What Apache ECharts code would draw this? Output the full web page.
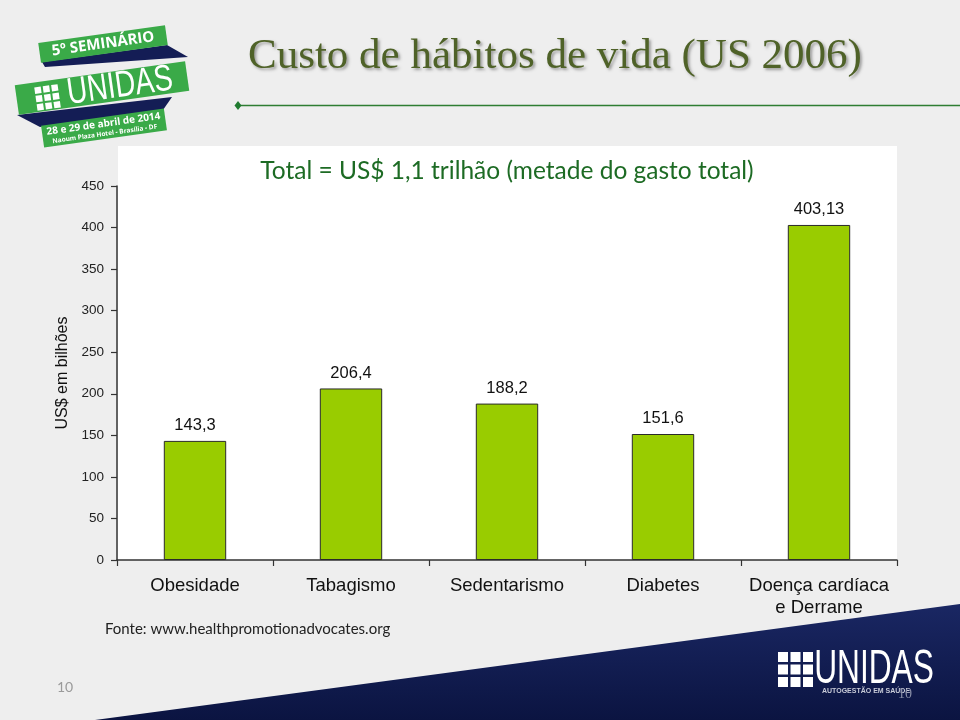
<!DOCTYPE html>
<html>
<head>
<meta charset="utf-8">
<script src="https://cdn.jsdelivr.net/npm/echarts@6/dist/echarts.min.js"></script>
<style>html,body{margin:0;padding:0;background:#eeeeee;}#chart{width:960px;height:720px;}</style>
</head>
<body>
<div id="chart"></div>
<script>
const categories = ['Obesidade', 'Tabagismo', 'Sedentarismo', 'Diabetes', 'Doença cardíaca\ne Derrame'];
const values = [143.3, 206.4, 188.2, 151.6, 403.13];
const yMin = 0, yMax = 450, yStep = 50;
const mainTitle = 'Custo de hábitos de vida (US 2006)';
const subTitle = 'Total = US$ 1,1 trilhão (metade do gasto total)';
const yName = 'US$ em bilhões';
const source = 'Fonte: www.healthpromotionadvocates.org';

const chart = echarts.init(document.getElementById('chart'));
const SANS = '"Liberation Sans", Arial, sans-serif';
const navy = '#141d55';
const green = '#3aaa48';

function squares(x0, y0, s, g, fill) {
  const out = [];
  for (let r = 0; r < 3; r++) for (let c = 0; c < 3; c++) {
    out.push({ type: 'rect', shape: { x: x0 + c * (s + g), y: y0 + r * (s + g), width: s, height: s }, style: { fill: fill } });
  }
  return out;
}

const graphics = [
  // white plot panel
  { type: 'rect', z: -10, shape: { x: 118, y: 146, width: 779, height: 414 }, style: { fill: '#ffffff' } },
  // navy corner
  { type: 'polygon', z: -5, shape: { points: [[95, 720], [960, 604], [960, 720]] },
    style: { fill: new echarts.graphic.LinearGradient(0, 0, 0, 1, [{ offset: 0, color: '#1a2763' }, { offset: 1, color: '#0b1441' }]) } },
  // title
  { type: 'text', x: 248, y: 57, style: { text: mainTitle, font: '43px "Liberation Serif", "Times New Roman", serif', fill: '#4f6228', textVerticalAlign: 'middle',
    textShadowColor: 'rgba(0,0,0,0.35)', textShadowBlur: 3, textShadowOffsetX: 2, textShadowOffsetY: 2 } },
  // line with diamond
  { type: 'line', shape: { x1: 238, y1: 105.5, x2: 960, y2: 105.5 }, style: { stroke: '#2e7d32', lineWidth: 1.3 } },
  { type: 'polygon', shape: { points: [[238, 101], [241.5, 105.5], [238, 110], [234.5, 105.5]] }, style: { fill: '#1f7a2f' } },
  // subtitle
  { type: 'text', x: 507, y: 171, style: { text: subTitle, font: '24.5px Lato, "Open Sans", sans-serif', fill: '#1d6b24', textAlign: 'center', textVerticalAlign: 'middle' } },
  // source
  { type: 'text', x: 105, y: 629, style: { text: source, font: '15px Lato, "Open Sans", sans-serif', fill: '#222', textVerticalAlign: 'middle' } },
  // page numbers
  { type: 'text', x: 65, y: 687, style: { text: '10', font: '14px Lato, sans-serif', fill: '#9a9a9a', textAlign: 'center', textVerticalAlign: 'middle' } },
  // top-left logo ribbons
  { type: 'polygon', shape: { points: [[42, 62], [167, 45], [188, 57], [45, 67]] }, style: { fill: navy } },
  { type: 'polygon', shape: { points: [[17, 115], [172, 97], [163, 110], [40, 127]] }, style: { fill: navy } },
  { type: 'group', x: 103, y: 44, rotation: 0.14, children: [
    { type: 'rect', shape: { x: -64, y: -10, width: 128, height: 20 }, style: { fill: green } },
    { type: 'text', x: 0, y: 0, style: { text: '5º SEMINÁRIO', font: 'bold 15px "Open Sans", sans-serif', fill: '#fff', textAlign: 'center', textVerticalAlign: 'middle' } }
  ] },
  { type: 'group', x: 102, y: 88, rotation: 0.14, children: [
    { type: 'rect', shape: { x: -86, y: -15, width: 172, height: 30 }, style: { fill: green } },
    ...squares(-67, -10, 6.5, 2, '#fff'),
    { type: 'text', x: 18, y: 1, scaleX: 0.76, style: { text: 'UNIDAS', font: '37px "Liberation Sans", sans-serif', fill: '#fff', textAlign: 'center', textVerticalAlign: 'middle' } }
  ] },
  { type: 'group', x: 104, y: 128, rotation: 0.14, children: [
    { type: 'rect', shape: { x: -62, y: -11, width: 124, height: 22 }, style: { fill: green } },
    { type: 'text', x: 0, y: -4, style: { text: '28 e 29 de abril de 2014', font: 'bold 10px "Open Sans", sans-serif', fill: '#fff', textAlign: 'center', textVerticalAlign: 'middle' } },
    { type: 'text', x: 0, y: 6, style: { text: 'Naoum Plaza Hotel - Brasília - DF', font: 'bold 6.5px "Open Sans", sans-serif', fill: '#fff', textAlign: 'center', textVerticalAlign: 'middle' } }
  ] },
  // bottom-right logo
  ...squares(778, 652, 10, 2.5, '#ffffff'),
  { type: 'text', x: 874, y: 670, scaleX: 0.66, style: { text: 'UNIDAS', font: '48px "Liberation Sans", sans-serif', fill: '#ffffff', textAlign: 'center', textVerticalAlign: 'middle' } },
  { type: 'text', x: 866, y: 691, style: { text: 'AUTOGESTÃO EM SAÚDE', font: 'bold 7px "Liberation Sans", sans-serif', fill: '#c8cbd8', textAlign: 'center', textVerticalAlign: 'middle' } },
  { type: 'text', x: 905, y: 694, style: { text: '10', font: '14px "Liberation Serif", serif', fill: '#8a8fa8', textAlign: 'center', textVerticalAlign: 'middle' } }
];

chart.setOption({
  backgroundColor: '#eeeeee',
  animation: false,
  grid: { left: 117, right: 63, top: 186, bottom: 160 },
  xAxis: {
    type: 'category',
    data: categories,
    axisLine: { lineStyle: { color: '#333', width: 1.5 } },
    axisTick: { show: true, length: 6, lineStyle: { color: '#333', width: 1.2 } },
    axisLabel: { fontSize: 18.5, color: '#111', fontFamily: SANS, margin: 15, lineHeight: 22, interval: 0 }
  },
  yAxis: {
    type: 'value',
    min: yMin, max: yMax, interval: yStep,
    name: yName,
    nameLocation: 'middle',
    nameGap: 46,
    nameRotate: 90,
    nameTextStyle: { fontSize: 16, color: '#111', fontFamily: SANS },
    axisLine: { show: true, lineStyle: { color: '#333', width: 1.5 } },
    axisTick: { show: true, length: 6, lineStyle: { color: '#333', width: 1.2 } },
    splitLine: { show: false },
    axisLabel: { fontSize: 13.5, color: '#222', fontFamily: SANS, margin: 13 }
  },
  series: [{
    type: 'bar',
    data: values,
    barWidth: '40%',
    itemStyle: { color: '#99cc00', borderColor: '#2a2a2a', borderWidth: 1 },
    label: {
      show: true, position: 'top', distance: 7,
      fontSize: 16.5, color: '#111', fontFamily: SANS,
      formatter: p => String(p.value).replace('.', ',')
    }
  }],
  graphic: { elements: graphics }
});
</script>
</body>
</html>
